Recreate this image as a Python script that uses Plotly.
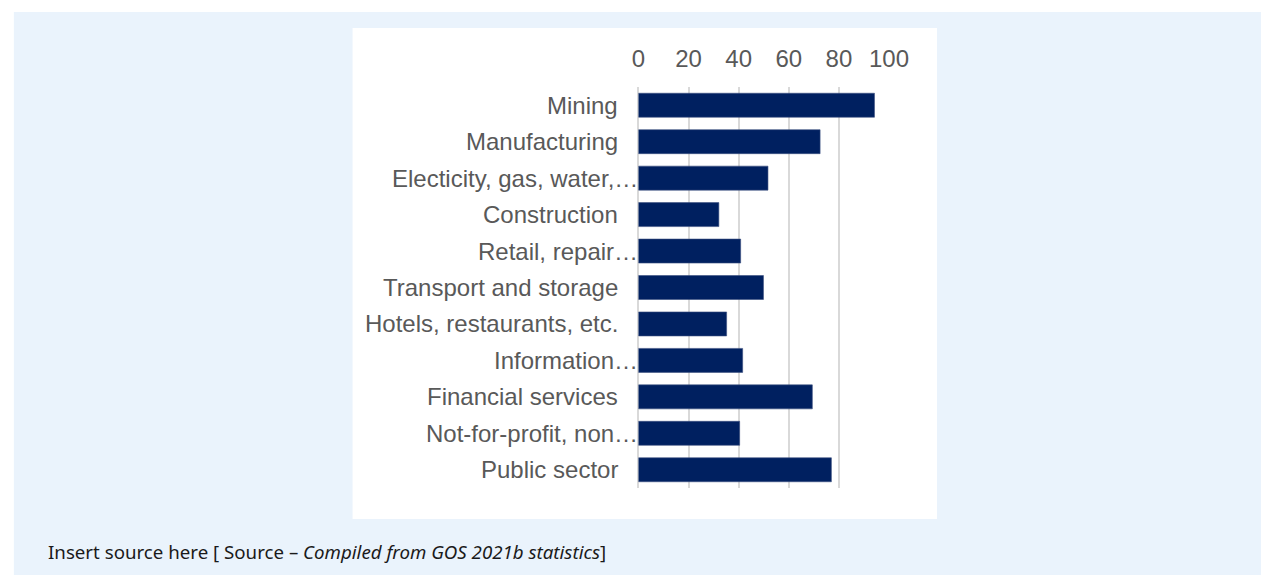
import plotly.graph_objects as go

# Sector labels (as shown, long names cut with an ellipsis) and their values
sectors = [
    "Mining",
    "Manufacturing",
    "Electicity, gas, water,…",
    "Construction",
    "Retail, repair…",
    "Transport and storage",
    "Hotels, restaurants, etc.",
    "Information…",
    "Financial services",
    "Not-for-profit, non…",
    "Public sector",
]
values = [94.2, 72.5, 51.7, 32.1, 40.8, 49.9, 35.2, 41.6, 69.4, 40.4, 77.0]
truncated = [s.endswith("…") for s in sectors]

x_ticks = [0, 20, 40, 60, 80, 100]

W, H = 1281, 575


def px(x):
    return x / W


def py(y):
    return 1 - y / H


LABEL_FONT = dict(family="Liberation Sans, Arial, sans-serif", size=24, color="#595959")

fig = go.Figure(
    go.Bar(
        x=values,
        y=sectors,
        orientation="h",
        marker=dict(color="#002060", line=dict(width=0.6, color="#3b4f80")),
        hoverinfo="x+y",
    )
)

# Category labels drawn as annotations so clipped names can run up to the axis
annotations = []
for name, cut in zip(sectors, truncated):
    annotations.append(
        dict(
            x=0, y=name, xref="x", yref="y",
            text=name, showarrow=False,
            xanchor="right", yanchor="middle",
            xshift=2 if cut else -18,
            font=LABEL_FONT,
        )
    )

annotations.append(
    dict(
        x=px(40), y=py(551), xref="paper", yref="paper",
        text="Insert source here [ Source – <i>Compiled from GOS 2021b statistics</i>]",
        showarrow=False, xanchor="left", yanchor="middle",
        font=dict(family="Noto Sans, Open Sans, sans-serif", size=18.7, color="#1a1a1a"),
    )
)

shapes = [
    # light blue panel
    dict(type="rect", xref="paper", yref="paper",
         x0=px(7), x1=1, y0=0, y1=py(12),
         fillcolor="#EAF3FC", line=dict(width=0), layer="below"),
    # white chart card
    dict(type="rect", xref="paper", yref="paper",
         x0=px(353), x1=px(950), y0=py(519), y1=py(28),
         fillcolor="#FFFFFF", line=dict(width=0), layer="below"),
]

fig.update_layout(
    width=W, height=H,
    autosize=False,
    margin=dict(l=0, r=0, t=0, b=0),
    paper_bgcolor="#FFFFFF",
    plot_bgcolor="rgba(0,0,0,0)",
    bargap=0.342,
    showlegend=False,
    shapes=shapes,
    annotations=annotations,
    xaxis=dict(
        domain=[px(645), px(901)],
        side="top",
        range=[0, 100],
        tickvals=x_ticks,
        tickfont=LABEL_FONT,
        ticklabelstandoff=14,
        showgrid=True, gridcolor="#D9D9D9", gridwidth=1.5,
        zeroline=True, zerolinecolor="#D9D9D9", zerolinewidth=1.5,
        showline=False, ticks="",
        fixedrange=True,
    ),
    yaxis=dict(
        domain=[py(488), py(87)],
        autorange="reversed",
        showticklabels=False,
        showgrid=False, zeroline=False, showline=False, ticks="",
        fixedrange=True,
    ),
)

fig.write_html("out.html")
